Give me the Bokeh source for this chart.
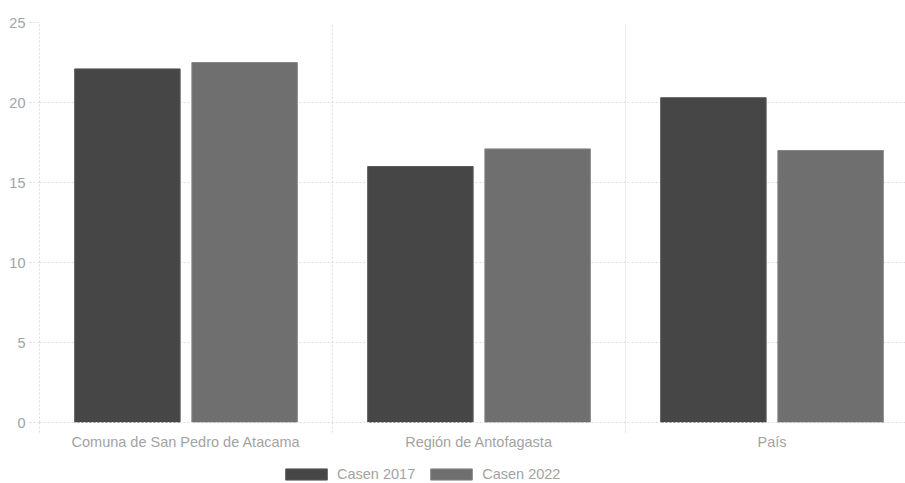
import numpy as np
from bokeh.plotting import figure
from bokeh.layouts import column
from bokeh.models import ColumnDataSource, Range1d, FixedTicker, Legend, LegendItem
from bokeh.transform import dodge
from bokeh.embed import file_html
from bokeh.resources import INLINE

categorias = ["Comuna de San Pedro de Atacama", "Región de Antofagasta", "País"]
casen_2017 = [22.1, 16.0, 20.3]
casen_2022 = [22.5, 17.1, 17.0]
series = ["Casen 2017", "Casen 2022"]
colores = ["#464646", "#6f6f6f"]
bordes = ["#5a5a5a", "#858585"]
y_ticks = [0, 5, 10, 15, 20, 25]

idx = np.arange(len(categorias))
source = ColumnDataSource(dict(x=idx + 0.5, c2017=casen_2017, c2022=casen_2022))

FONT = "Liberation Sans"
LABEL_COLOR = "#a3a3a3"
GRID_COLOR = "#dcdcdc"

p = figure(width=905, height=452, output_backend="svg", toolbar_location=None,
           x_range=Range1d(0, 866 / 293), y_range=Range1d(0, 25),
           min_border_left=39, min_border_right=0, min_border_top=22, min_border_bottom=30)
p.outline_line_color = None

p.vbar(x=dodge("x", -0.2, range=p.x_range), top="c2017", width=0.36, bottom=0,
       source=source, fill_color=colores[0], line_color=bordes[0], line_width=1)
p.vbar(x=dodge("x", 0.2, range=p.x_range), top="c2022", width=0.36, bottom=0,
       source=source, fill_color=colores[1], line_color=bordes[1], line_width=1)

# x axis
p.xaxis.ticker = FixedTicker(ticks=list(idx + 0.5), minor_ticks=list(np.arange(len(categorias) + 1)))
p.xaxis.major_label_overrides = {float(i + 0.5): c for i, c in enumerate(categorias)}
p.xaxis.major_tick_line_color = None
p.xaxis.major_tick_out = 6
p.xaxis.major_tick_in = 0
p.xaxis.minor_tick_out = 10
p.xaxis.minor_tick_in = 0
p.xaxis.minor_tick_line_color = GRID_COLOR
p.xaxis.minor_tick_line_dash = "2 2"
p.xaxis.axis_line_color = GRID_COLOR
p.xaxis.axis_line_dash = "2 2"
p.xaxis.major_label_standoff = 1
p.xaxis.major_label_text_font = FONT
p.xaxis.major_label_text_font_size = "14.5px"
p.xaxis.major_label_text_color = LABEL_COLOR

# y axis
p.yaxis.ticker = FixedTicker(ticks=y_ticks)
p.yaxis.minor_tick_line_color = None
p.yaxis.major_tick_out = 10
p.yaxis.major_tick_in = 0
p.yaxis.major_tick_line_color = GRID_COLOR
p.yaxis.major_tick_line_dash = "2 2"
p.yaxis.axis_line_color = GRID_COLOR
p.yaxis.axis_line_dash = "2 2"
p.yaxis.major_label_standoff = 4
p.yaxis.major_label_text_font = FONT
p.yaxis.major_label_text_font_size = "14.5px"
p.yaxis.major_label_text_color = LABEL_COLOR

# grids
p.xgrid.ticker = FixedTicker(ticks=list(np.arange(len(categorias) + 1)))
p.xgrid.grid_line_color = GRID_COLOR
p.xgrid.grid_line_dash = "2 2"
p.ygrid.grid_line_color = GRID_COLOR
p.ygrid.grid_line_dash = "2 2"

# legend strip (separate small figure below the chart)
lg = figure(width=905, height=31, output_backend="svg", toolbar_location=None,
            x_range=Range1d(0, 1), y_range=Range1d(0, 1),
            x_axis_type=None, y_axis_type=None, min_border=0)
lg.outline_line_color = None
lg.xgrid.visible = False
lg.ygrid.visible = False
hidden = ColumnDataSource(dict(x=[np.nan], top=[np.nan]))
lr1 = lg.vbar(x="x", top="top", width=0.1, source=hidden,
              fill_color=colores[0], line_color=bordes[0])
lr2 = lg.vbar(x="x", top="top", width=0.1, source=hidden,
              fill_color=colores[1], line_color=bordes[1])
legend = Legend(items=[LegendItem(label=series[0], renderers=[lr1], index=0),
                       LegendItem(label=series[1], renderers=[lr2], index=0)],
                orientation="horizontal", location=(241, 1),
                glyph_width=52, glyph_height=14, label_standoff=5, spacing=10,
                padding=0, margin=0, border_line_color=None, background_fill_alpha=0,
                label_text_font=FONT, label_text_font_size="14.5px",
                label_text_color=LABEL_COLOR, label_height=14)
lg.add_layout(legend, "center")

layout = column(p, lg, spacing=0)
open("out.html", "w").write(file_html(layout, INLINE))
